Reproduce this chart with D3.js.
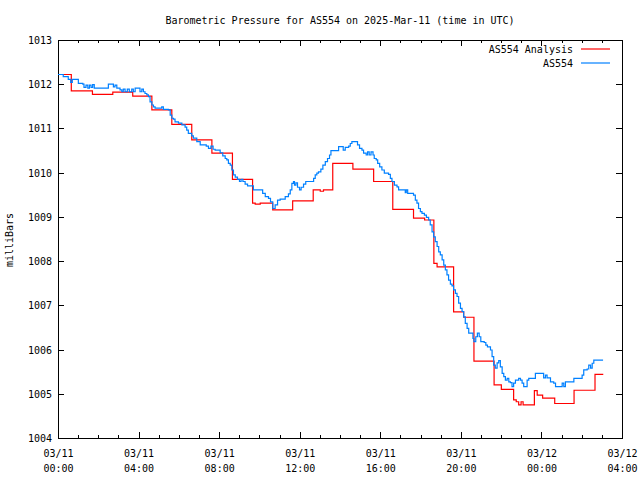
<!DOCTYPE html>
<html>
<head>
<meta charset="utf-8">
<script src="https://cdn.jsdelivr.net/npm/d3@7"></script>
<style>
  html, body { margin: 0; padding: 0; background: #fff; }
  svg { display: block; }
  text { font-family: "DejaVu Sans Mono", "Liberation Mono", monospace; font-size: 10px; fill: #000; }
</style>
</head>
<body>
<svg id="chart" width="640" height="480"></svg>
<script>
// ---------------- DATA ----------------
const chartTitle = "Barometric Pressure for AS554 on 2025-Mar-11 (time in UTC)";
const yAxisLabel = "milliBars";
const seriesNames = ["AS554 Analysis", "AS554"];
const seriesColors = ["#ff0000", "#0080ff"];
const yTicks = [1004, 1005, 1006, 1007, 1008, 1009, 1010, 1011, 1012, 1013];
// major x ticks, hours since 2025-03-11 00:00 UTC
const xMajorHours = [0, 4, 8, 12, 16, 20, 24, 28];
const xTickDates = ["03/11", "03/11", "03/11", "03/11", "03/11", "03/11", "03/12", "03/12"];
const xTickTimes = ["00:00", "04:00", "08:00", "12:00", "16:00", "20:00", "00:00", "04:00"];

// AS554 Analysis: [hours since 03/11 00:00 UTC, mb]
const analysisHours = [0.00, 0.66, 1.71, 2.72, 3.71, 4.66, 5.65, 6.64, 7.64, 8.66, 9.66, 9.79, 10.04,
  10.66, 11.65, 12.67, 13.02, 13.18, 13.64, 14.64, 15.67, 16.62, 17.65, 18.20, 18.66, 18.82, 19.64,
  20.14, 20.65, 21.65, 22.01, 22.62, 22.75, 22.87, 22.99, 23.09, 23.65, 23.79, 24.06, 24.66, 25.62,
  26.66, 27.07];
const analysisMb = [1012.22, 1011.85, 1011.77, 1011.82, 1011.73, 1011.42, 1011.09, 1010.74, 1010.44,
  1009.85, 1009.31, 1009.29, 1009.31, 1009.16, 1009.36, 1009.61, 1009.58, 1009.61, 1010.21, 1010.08,
  1009.80, 1009.17, 1008.97, 1008.93, 1007.95, 1007.87, 1006.85, 1006.73, 1005.74, 1005.20, 1005.10,
  1004.86, 1004.82, 1004.75, 1004.82, 1004.75, 1005.07, 1004.97, 1004.90, 1004.78, 1005.08, 1005.44,
  1005.44];

// AS554 observations: [hours, mb]
const obsHours = [0.00, 0.26, 0.51, 0.63, 0.71, 1.01, 1.23, 1.29, 1.39, 1.48, 1.56, 1.64, 1.72, 1.80,
  2.50, 2.75, 2.83, 2.92, 3.08, 3.17, 3.24, 3.33, 3.44, 3.54, 3.66, 3.74, 3.83, 4.07, 4.16, 4.24,
  4.32, 4.41, 4.49, 4.57, 4.66, 4.74, 4.82, 5.15, 5.23, 5.48, 5.57, 5.65, 5.73, 5.81, 5.98, 6.15,
  6.31, 6.39, 6.47, 6.64, 6.72, 6.89, 7.06, 7.36, 7.47, 7.59, 7.70, 7.80, 8.05, 8.18, 8.30, 8.38,
  8.46, 8.55, 8.63, 8.71, 8.80, 8.91, 9.01, 9.09, 9.18, 9.29, 9.41, 9.70, 10.16, 10.29, 10.45,
  10.55, 10.66, 10.78, 10.90, 11.03, 11.28, 11.44, 11.53, 11.61, 11.69, 11.74, 11.81, 11.89, 11.99,
  12.07, 12.19, 12.30, 12.69, 12.77, 12.85, 12.93, 13.05, 13.15, 13.27, 13.38, 13.48, 13.55, 13.93,
  14.16, 14.26, 14.43, 14.51, 14.59, 14.87, 14.97, 15.09, 15.17, 15.30, 15.37, 15.45, 15.54, 15.64,
  15.70, 15.80, 15.87, 15.97, 16.08, 16.20, 16.41, 16.50, 16.58, 16.70, 16.83, 16.91, 17.24, 17.29,
  17.36, 17.65, 17.74, 17.82, 17.90, 17.99, 18.07, 18.19, 18.29, 18.40, 18.48, 18.57, 18.65, 18.73,
  18.82, 18.90, 18.98, 19.07, 19.15, 19.23, 19.31, 19.39, 19.48, 19.56, 19.64, 19.73, 19.81, 19.89,
  19.98, 20.06, 20.14, 20.22, 20.31, 20.39, 20.60, 20.65, 20.74, 20.82, 20.91, 20.99, 21.16, 21.24,
  21.32, 21.47, 21.55, 21.63, 21.71, 21.80, 21.88, 21.96, 22.05, 22.13, 22.21, 22.30, 22.38, 22.46,
  22.54, 22.62, 22.71, 22.87, 22.96, 23.04, 23.12, 23.29, 23.37, 23.70, 24.11, 24.20, 24.28, 24.45,
  24.61, 24.70, 25.03, 25.11, 25.19, 25.61, 26.02, 26.10, 26.27, 26.35, 26.44, 26.52, 26.60, 27.06];
const obsMb = [1012.22, 1012.17, 1012.11, 1012.04, 1012.11, 1012.02, 1012.00, 1011.93, 1011.98,
  1011.91, 1011.98, 1011.93, 1011.99, 1011.91, 1012.00, 1011.94, 1011.98, 1011.91, 1011.87, 1011.83,
  1011.89, 1011.83, 1011.89, 1011.83, 1011.89, 1011.83, 1011.91, 1011.83, 1011.89, 1011.83, 1011.79,
  1011.76, 1011.72, 1011.60, 1011.53, 1011.49, 1011.46, 1011.49, 1011.43, 1011.42, 1011.30, 1011.23,
  1011.21, 1011.15, 1011.12, 1011.08, 1011.03, 1010.96, 1010.89, 1010.83, 1010.78, 1010.70, 1010.63,
  1010.60, 1010.55, 1010.60, 1010.53, 1010.51, 1010.45, 1010.38, 1010.32, 1010.29, 1010.21, 1010.17,
  1010.06, 1009.95, 1009.90, 1009.85, 1009.80, 1009.85, 1009.80, 1009.74, 1009.70, 1009.61, 1009.53,
  1009.46, 1009.42, 1009.34, 1009.19, 1009.27, 1009.38, 1009.40, 1009.46, 1009.52, 1009.61, 1009.76,
  1009.80, 1009.72, 1009.77, 1009.67, 1009.61, 1009.67, 1009.74, 1009.80, 1009.87, 1009.95, 1009.99,
  1010.02, 1010.08, 1010.17, 1010.25, 1010.32, 1010.40, 1010.50, 1010.59, 1010.51, 1010.57, 1010.60,
  1010.66, 1010.70, 1010.63, 1010.55, 1010.51, 1010.44, 1010.40, 1010.47, 1010.40, 1010.47, 1010.40,
  1010.32, 1010.29, 1010.21, 1010.13, 1010.06, 1009.99, 1009.96, 1009.87, 1009.80, 1009.72, 1009.68,
  1009.61, 1009.55, 1009.61, 1009.53, 1009.49, 1009.38, 1009.31, 1009.19, 1009.12, 1009.08, 1009.04,
  1008.99, 1008.93, 1008.82, 1008.66, 1008.55, 1008.44, 1008.33, 1008.21, 1008.14, 1008.03, 1007.91,
  1007.80, 1007.69, 1007.57, 1007.48, 1007.44, 1007.35, 1007.27, 1007.20, 1007.05, 1006.93, 1006.86,
  1006.74, 1006.59, 1006.48, 1006.37, 1006.25, 1006.18, 1006.29, 1006.37, 1006.29, 1006.18, 1006.16,
  1006.10, 1006.06, 1005.99, 1005.84, 1005.65, 1005.58, 1005.70, 1005.75, 1005.61, 1005.46, 1005.39,
  1005.31, 1005.35, 1005.27, 1005.25, 1005.16, 1005.24, 1005.31, 1005.35, 1005.31, 1005.24, 1005.16,
  1005.31, 1005.35, 1005.46, 1005.36, 1005.42, 1005.36, 1005.27, 1005.24, 1005.16, 1005.24, 1005.16,
  1005.27, 1005.35, 1005.42, 1005.54, 1005.56, 1005.65, 1005.58, 1005.69, 1005.76, 1005.76];

// ---------------- CHART ----------------
const svg = d3.select("#chart");
const W = 640, H = 480;
const m = { left: 58, right: 18, top: 40, bottom: 42 };
const plotL = m.left, plotR = W - m.right, plotT = m.top, plotB = H - m.bottom;

const t0 = Date.UTC(2025, 2, 11, 0, 0);
const toDate = h => new Date(t0 + h * 3600e3);

const x = d3.scaleUtc().domain([toDate(0), toDate(28)]).range([plotL, plotR]);
const y = d3.scaleLinear().domain([1004, 1013]).range([plotB, plotT]);

svg.append("rect").attr("width", W).attr("height", H).attr("fill", "#fff");

// ticks (gnuplot style, inward, mirrored)
const majorDates = xMajorHours.map(toDate);
const minorDates = d3.range(0, 29).filter(h => h % 4 !== 0).map(toDate);

const gx = svg.append("g").attr("transform", `translate(0,${plotB})`)
  .call(d3.axisBottom(x).tickValues(majorDates).tickSizeInner(-6).tickSizeOuter(0).tickFormat(""));
const gxMinor = svg.append("g").attr("transform", `translate(0,${plotB})`)
  .call(d3.axisBottom(x).tickValues(minorDates).tickSizeInner(-3).tickSizeOuter(0).tickFormat(""));
const gxt = svg.append("g").attr("transform", `translate(0,${plotT})`)
  .call(d3.axisTop(x).tickValues(majorDates).tickSizeInner(-6).tickSizeOuter(0).tickFormat(""));
const gxtMinor = svg.append("g").attr("transform", `translate(0,${plotT})`)
  .call(d3.axisTop(x).tickValues(minorDates).tickSizeInner(-3).tickSizeOuter(0).tickFormat(""));
const gy = svg.append("g").attr("transform", `translate(${plotL},0)`)
  .call(d3.axisLeft(y).tickValues(yTicks).tickSizeInner(-6).tickSizeOuter(0).tickPadding(6).tickFormat(d3.format("d")));
const gyr = svg.append("g").attr("transform", `translate(${plotR},0)`)
  .call(d3.axisRight(y).tickValues(yTicks).tickSizeInner(-6).tickSizeOuter(0).tickFormat(""));

[gx, gxMinor, gxt, gxtMinor, gy, gyr].forEach(g => {
  g.select(".domain").remove();
  g.selectAll("line").attr("stroke", "#000").attr("shape-rendering", "crispEdges");
});
gy.selectAll("text").attr("font-family", null).attr("font-size", null).attr("fill", "#000").attr("dy", "0.35em");

// two-line x tick labels
gx.selectAll(".tick").each(function(d, i) {
  const g = d3.select(this);
  g.append("text").attr("text-anchor", "middle").attr("y", 19).text(xTickDates[i]);
  g.append("text").attr("text-anchor", "middle").attr("y", 34).text(xTickTimes[i]);
});

// border
svg.append("rect")
  .attr("x", plotL + 0.5).attr("y", plotT + 0.5)
  .attr("width", plotR - plotL).attr("height", plotB - plotT)
  .attr("fill", "none").attr("stroke", "#000").attr("shape-rendering", "crispEdges");

// lines
const analysis = analysisHours.map((h, i) => [toDate(h), analysisMb[i]]);
const obs = obsHours.map((h, i) => [toDate(h), obsMb[i]]);
const line = d3.line().x(d => x(d[0])).y(d => y(d[1])).curve(d3.curveStepAfter);

svg.append("path").datum(analysis).attr("d", line)
  .attr("fill", "none").attr("stroke", seriesColors[0]).attr("stroke-width", 1.2);
svg.append("path").datum(obs).attr("d", line)
  .attr("fill", "none").attr("stroke", seriesColors[1]).attr("stroke-width", 1.2);

// title
svg.append("text").attr("x", 340).attr("y", 24).attr("text-anchor", "middle").text(chartTitle);

// y label
svg.append("text").attr("transform", "translate(13,240) rotate(-90)")
  .attr("text-anchor", "middle").text(yAxisLabel);

// legend
const leg = svg.append("g");
seriesNames.forEach((name, i) => {
  const ly = 49 + i * 14;
  leg.append("text").attr("x", 573).attr("y", ly).attr("dy", "0.35em")
    .attr("text-anchor", "end").text(name);
  leg.append("line").attr("x1", 581).attr("x2", 610).attr("y1", ly).attr("y2", ly)
    .attr("stroke", seriesColors[i]).attr("stroke-width", 1.2);
});
</script>
</body>
</html>
